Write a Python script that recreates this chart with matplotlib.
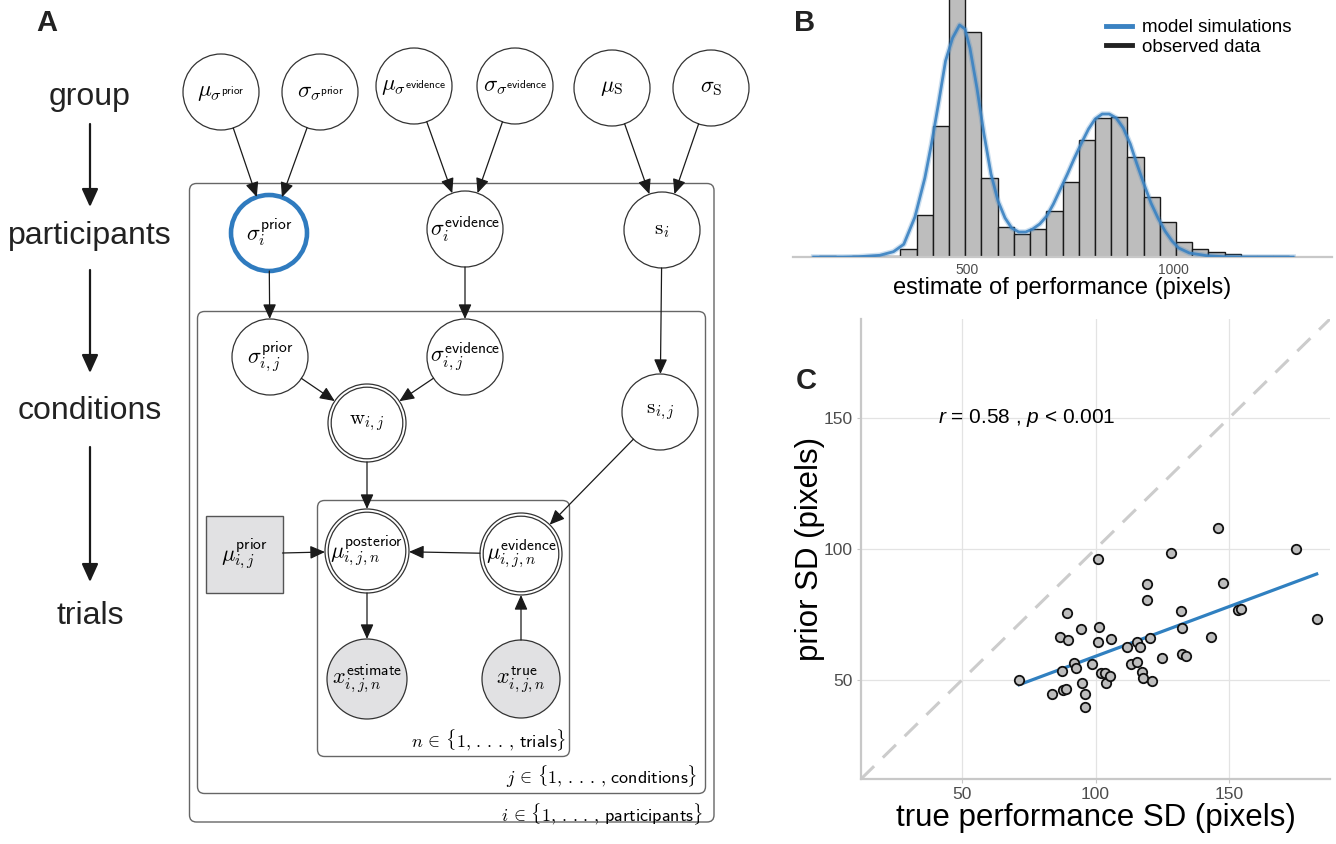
import numpy as np
import matplotlib
matplotlib.use('Agg')
import matplotlib.pyplot as plt
from matplotlib.patches import Circle, FancyBboxPatch, Rectangle
from matplotlib.lines import Line2D

plt.rcParams['font.family'] = ['Liberation Sans', 'DejaVu Sans']
plt.rcParams['mathtext.fontset'] = 'custom'
plt.rcParams['mathtext.rm'] = 'Liberation Sans'
plt.rcParams['mathtext.it'] = 'Liberation Sans:italic'

# ---- panel B: observed histogram + simulated density ----
bin_start = 144
bin_width = 39.2
obs_counts = [0.7, 0, 0.7, 0.7, 0.7, 8, 42, 131, 275, 225, 79, 30, 23, 28, 46,
              75, 117, 139, 140, 100, 60, 35, 15, 8, 4.7, 2.7, 0.7, 0.7, 0.7]
sim_x = [130, 200, 239, 290, 323, 348, 375, 399, 415, 433, 449, 466, 483, 496,
         508, 525, 542, 559, 576, 593, 609, 626, 643, 660, 677, 694, 710, 727,
         744, 761, 778, 795, 811, 828, 845, 862, 879, 896, 912, 929, 946, 963,
         980, 997, 1013, 1039, 1081, 1123, 1165, 1290]
sim_y = [0, 0, 0.3, 1.7, 5.3, 12.7, 40, 79, 113, 156, 196, 219, 232, 228,
         209, 169, 123, 83, 56, 39, 29, 25, 25, 28, 33, 41, 53, 68,
         83, 99, 114, 128, 138, 143, 143, 139, 129, 113, 93, 73, 54, 39,
         26, 16, 9, 4, 1.3, 0.3, 0, 0]

# ---- panel C: per-participant SDs ----
true_sd = [71.3, 83.7, 87.9, 89.1, 87.3, 86.8, 89.7, 89.3, 92.0, 92.5, 94.5, 95.1,
           96.0, 96.0, 98.8, 100.8, 101.2, 101.0, 102.1, 103.5, 104.1, 105.4, 105.9,
           111.8, 115.7, 116.7, 113.4, 115.7, 117.6, 117.9, 119.2, 119.2, 120.6,
           121.2, 124.8, 128.5, 132.0, 132.4, 132.6, 133.8, 143.3, 146.1, 147.8,
           153.3, 154.5, 175.1, 183.0]
prior_sd = [50.0, 44.5, 46.1, 46.4, 53.5, 66.3, 65.0, 75.7, 56.5, 54.4, 69.4, 48.8,
            44.7, 39.7, 55.9, 64.3, 70.2, 96.0, 52.6, 52.7, 48.7, 51.4, 65.4,
            62.4, 64.6, 62.4, 56.1, 56.8, 53.0, 50.5, 86.7, 80.6, 66.1,
            49.5, 58.3, 98.3, 76.3, 69.9, 59.9, 59.1, 66.3, 108.1, 87.1,
            76.6, 77.1, 99.9, 73.4]

blue = '#3a82c2'
grey_axis = '#c8c8c8'

fig = plt.figure(figsize=(13.36, 8.44), dpi=100)
W, H = 1336, 844

# ---------------- B ----------------
ax_b = fig.add_axes([793 / W, 1 - 257 / H, (1332 - 793) / W, 257 / H])
edges = bin_start + bin_width * np.arange(len(obs_counts))
ax_b.bar(edges, obs_counts, width=bin_width, align='edge', color='#bdbdbd',
         edgecolor='#1a1a1a', linewidth=1.0, zorder=2)
ax_b.plot(sim_x, sim_y, color=blue, lw=4.0, alpha=0.25, zorder=3)
ax_b.plot(sim_x, sim_y, color=blue, lw=2.0, alpha=0.9, zorder=4)
ax_b.set_xlim(80, 1384)
ax_b.set_ylim(0, 257)
ax_b.set_facecolor('none')
for s in ['top', 'right', 'left']:
    ax_b.spines[s].set_visible(False)
ax_b.spines['bottom'].set_color(grey_axis)
ax_b.spines['bottom'].set_linewidth(1.6)
ax_b.set_yticks([])
ax_b.set_xticks([500, 1000])
ax_b.tick_params(axis='x', length=0, pad=4, labelsize=10, labelcolor='#4d4d4d')
ax_b.set_xlabel('estimate of performance (pixels)', fontsize=17)
ax_b.xaxis.label.set_va('center')
ax_b.xaxis.set_label_coords(0.5, -31 / 257)

handles = [Line2D([], [], color=blue, lw=3.5), Line2D([], [], color='#222222', lw=3.5)]
fig.legend(handles, ['model simulations', 'observed data'], loc='upper left',
           bbox_to_anchor=(1106 / W, 1 - 19 / H), frameon=False, fontsize=13.5,
           handlelength=1.4, handletextpad=0.5, labelspacing=0.12,
           borderpad=0, borderaxespad=0)

# ---------------- C ----------------
ax_c = fig.add_axes([861 / W, 1 - 779 / H, (1330 - 861) / W, (779 - 319) / H])
ax_c.set_xlim(12, 188)
ax_c.set_ylim(12, 188)
ax_c.set_xticks([50, 100, 150])
ax_c.set_yticks([50, 100, 150])
ax_c.grid(True, color='#e3e3e3', lw=0.9)
ax_c.set_axisbelow(True)
ax_c.axline((50, 50), slope=1, color='#cccccc', lw=2.2, dashes=(6, 4), zorder=1)
slope, icpt = np.polyfit(true_sd, prior_sd, 1)
xx = np.array([min(true_sd), max(true_sd)])
ax_c.plot(xx, slope * xx + icpt, color='#3080c0', lw=2.3, zorder=3)
ax_c.scatter(true_sd, prior_sd, s=46, facecolor='#bdbdbd', edgecolor='#111111',
             linewidth=1.3, zorder=4)
for s in ['top', 'right']:
    ax_c.spines[s].set_visible(False)
for s in ['left', 'bottom']:
    ax_c.spines[s].set_color(grey_axis)
    ax_c.spines[s].set_linewidth(1.6)
ax_c.tick_params(length=3, color=grey_axis, labelsize=12.5, labelcolor='#4d4d4d', pad=3)
ax_c.set_xlabel('true performance SD (pixels)', fontsize=22.5)
ax_c.xaxis.label.set_va('center')
ax_c.xaxis.set_label_coords(0.5, -39 / 460)
ax_c.set_ylabel('prior SD (pixels)', fontsize=22.5)
ax_c.yaxis.label.set_va('center')
ax_c.yaxis.set_label_coords(-51 / 469, 0.5)
ax_c.text(41, 150, r'$r$ = 0.58 , $p$ < 0.001', fontsize=15, ha='left', va='center')

# ---------------- A: graphical model (pixel canvas) ----------------
cv = fig.add_axes([0, 0, 1, 1])
cv.set_xlim(0, W)
cv.set_ylim(H, 0)
cv.axis('off')

ink = '#1a1a1a'

def plate(x0, y0, x1, y1):
    cv.add_patch(FancyBboxPatch((x0, y0), x1 - x0, y1 - y0,
                                boxstyle='round,pad=0,rounding_size=7',
                                fc='none', ec='#666666', lw=1.0))

plate(189.5, 183.5, 714, 822)
plate(197.5, 311.5, 705.5, 793.5)
plate(317.5, 500.5, 569.5, 756.5)

nodes = {
    'mu_sp': (221, 92, 38, r'$\mu_{\sigma^{\mathsf{prior}}}$', 'plain', 16.5),
    'sd_sp': (320, 92, 38, r'$\sigma_{\sigma^{\mathsf{prior}}}$', 'plain', 16.5),
    'mu_se': (414, 86, 38, r'$\mu_{\sigma^{\mathsf{evidence}}}$', 'plain', 16.5),
    'sd_se': (515, 86, 38, r'$\sigma_{\sigma^{\mathsf{evidence}}}$', 'plain', 16.5),
    'mu_s': (612, 88, 38, r'$\mu_{\mathrm{S}}$', 'plain', 16),
    'sd_s': (711, 88, 38, r'$\sigma_{\mathrm{S}}$', 'plain', 16),
    'sp_i': (269, 233, 38, r'$\sigma_i^{\mathsf{prior}}$', 'highlight', 16),
    'se_i': (465, 229, 38, r'$\sigma_i^{\mathsf{evidence}}$', 'plain', 16),
    's_i': (662, 230, 38, r'$\mathrm{s}_i$', 'plain', 15),
    'sp_ij': (270, 357, 38, r'$\sigma_{i,j}^{\mathsf{prior}}$', 'plain', 16),
    'se_ij': (465, 357, 38, r'$\sigma_{i,j}^{\mathsf{evidence}}$', 'plain', 16),
    'w_ij': (367, 423, 39, r'$\mathrm{w}_{i,j}$', 'double', 15),
    's_ij': (660, 412, 38, r'$\mathrm{s}_{i,j}$', 'plain', 15),
    'mu_post': (367, 551, 42, r'$\mu_{i,j,n}^{\mathsf{posterior}}$', 'double', 16),
    'mu_ev': (521, 554, 41, r'$\mu_{i,j,n}^{\mathsf{evidence}}$', 'double', 16),
    'x_est': (367, 679, 40, r'$x_{i,j,n}^{\mathsf{estimate}}$', 'observed', 16),
    'x_true': (521, 679, 39, r'$x_{i,j,n}^{\mathsf{true}}$', 'observed', 16),
}

for key, (x, y, r, lab, kind, fs) in nodes.items():
    fc = '#e1e1e3' if kind == 'observed' else 'white'
    if kind == 'highlight':
        cv.add_patch(Circle((x, y), r, fc=fc, ec='#2f7bbf', lw=3.3))
    else:
        cv.add_patch(Circle((x, y), r, fc=fc, ec='#333333', lw=0.9))
    if kind == 'double':
        cv.add_patch(Circle((x, y), r - 3.2, fc='none', ec='#333333', lw=0.9))
    cv.text(x, y, lab, ha='center', va='center', fontsize=fs, math_fontfamily='cm')

# fixed prior mean (square node)
cv.add_patch(Rectangle((205.5, 516), 77, 77, fc='#e1e1e3', ec='#555555', lw=1.0))
cv.text(244, 554, r'$\mu_{i,j}^{\mathsf{prior}}$', ha='center', va='center',
        fontsize=16, math_fontfamily='cm')

arrow_kw = dict(arrowstyle='-|>,head_length=0.9,head_width=0.4', mutation_scale=10,
                lw=0.9, color=ink, shrinkA=0, shrinkB=0)

def link(a, b):
    x0, y0, r0 = nodes[a][:3]
    x1, y1, r1 = nodes[b][:3]
    d = np.hypot(x1 - x0, y1 - y0)
    ux, uy = (x1 - x0) / d, (y1 - y0) / d
    cv.annotate('', xy=(x1 - ux * r1, y1 - uy * r1), xytext=(x0 + ux * r0, y0 + uy * r0),
                arrowprops=arrow_kw)

edges_graph = [('mu_sp', 'sp_i'), ('sd_sp', 'sp_i'), ('mu_se', 'se_i'), ('sd_se', 'se_i'),
               ('mu_s', 's_i'), ('sd_s', 's_i'), ('sp_i', 'sp_ij'), ('se_i', 'se_ij'),
               ('s_i', 's_ij'), ('sp_ij', 'w_ij'), ('se_ij', 'w_ij'), ('w_ij', 'mu_post'),
               ('s_ij', 'mu_ev'), ('mu_ev', 'mu_post'), ('mu_post', 'x_est'),
               ('x_true', 'mu_ev')]
for a, b in edges_graph:
    link(a, b)
cv.annotate('', xy=(367 - 42, 552), xytext=(282.5, 553), arrowprops=arrow_kw)

plate_labels = [(566, 740, 'n', 'trials'), (697, 777, 'j', 'conditions'),
                (703, 814, 'i', 'participants')]
for x, y, idx, word in plate_labels:
    cv.text(x, y, r'$%s\,\in\,\{1,\,.\,.\,.\,,\,\mathsf{%s}\}$' % (idx, word),
            ha='right', va='center', fontsize=13, math_fontfamily='cm')

# hierarchy levels on the left
levels = ['group', 'participants', 'conditions', 'trials']
level_y = [97, 236, 411, 616]
for lab, y in zip(levels, level_y):
    cv.text(90, y, lab, ha='center', va='center', fontsize=23, color='#222222')
lvl_kw = dict(arrowstyle='-|>,head_length=0.55,head_width=0.25', mutation_scale=20,
              lw=1.6, color=ink, shrinkA=0, shrinkB=0)
for y0, y1 in [(124, 207), (270, 373), (447, 582)]:
    cv.annotate('', xy=(90, y1), xytext=(90, y0), arrowprops=lvl_kw)

# panel letters
for lab, x, y in [('A', 47, 23), ('B', 805, 23), ('C', 806, 381)]:
    cv.text(x, y, lab, ha='center', va='center', fontsize=21, weight='bold', color='#222222')

fig.savefig('out.png', dpi=100)
